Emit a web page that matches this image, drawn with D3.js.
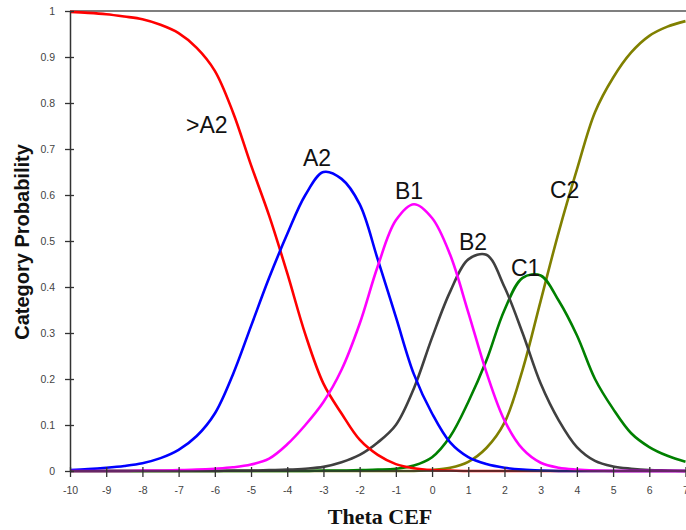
<!DOCTYPE html>
<html>
<head>
<meta charset="utf-8">
<script src="https://cdn.jsdelivr.net/npm/d3@7.9.0/dist/d3.min.js"></script>
<style>
  html, body { margin: 0; padding: 0; background: #fff; }
  svg { display: block; }
  .tick text { font-family: Arial, "Liberation Sans", sans-serif; font-size: 10.5px; fill: #444; }
</style>
</head>
<body>
<svg id="chart" width="686" height="530"></svg>
<script>
// theta points (read every 0.5 from the picture)
const theta = [-10,-9.5,-9,-8.5,-8,-7.5,-7,-6.5,-6,-5.5,-5,-4.5,-4,-3.5,-3,-2.5,-2,-1.5,-1,-0.5,
               0,0.5,1,1.5,2,2.5,3,3.5,4,4.5,5,5.5,6,6.5,7];

const probAboveA2 = [0.998,0.996,0.993,0.988,0.982,0.970,0.952,0.920,0.870,0.780,0.665,0.555,0.430,0.297,0.190,0.125,0.068,0.035,0.015,0.006,
                     0.002,0.001,0,0,0,0,0,0,0,0,0,0,0,0,0];
const probA2      = [0.002,0.004,0.007,0.011,0.017,0.028,0.046,0.076,0.125,0.210,0.315,0.420,0.515,0.600,0.650,0.635,0.580,0.460,0.335,0.210,
                     0.125,0.062,0.030,0.015,0.007,0.003,0.001,0,0,0,0,0,0,0,0];
const probB1      = [0,0,0,0,0.001,0.001,0.002,0.003,0.005,0.008,0.014,0.027,0.058,0.100,0.150,0.220,0.320,0.445,0.545,0.580,
                     0.550,0.470,0.345,0.215,0.110,0.048,0.018,0.007,0.003,0.001,0,0,0,0,0];
const probB2      = [0,0,0,0,0,0,0,0,0,0.001,0.001,0.002,0.003,0.005,0.009,0.019,0.035,0.062,0.100,0.180,
                     0.290,0.390,0.460,0.470,0.400,0.300,0.190,0.110,0.052,0.022,0.010,0.005,0.002,0.001,0];
const probC1      = [0,0,0,0,0,0,0,0,0,0,0,0,0,0,0.001,0.001,0.002,0.003,0.005,0.012,
                     0.030,0.075,0.150,0.240,0.350,0.420,0.425,0.370,0.295,0.200,0.135,0.082,0.052,0.033,0.020];
const probC2      = [0,0,0,0,0,0,0,0,0,0,0,0,0,0,0,0,0,0,0,0,
                     0.002,0.007,0.020,0.050,0.105,0.220,0.370,0.520,0.655,0.780,0.855,0.910,0.946,0.966,0.978];

const xTicks = [-10,-9,-8,-7,-6,-5,-4,-3,-2,-1,0,1,2,3,4,5,6,7];
const yTicks = [0,0.1,0.2,0.3,0.4,0.5,0.6,0.7,0.8,0.9,1];

// drawing order matters where lines lie on the axis
const series = [
  { name: 'C2',  values: probC2,      color: '#808000', label: [550, 198] },
  { name: 'C1',  values: probC1,      color: '#008000', label: [511, 276] },
  { name: 'B2',  values: probB2,      color: '#404040', label: [459, 250] },
  { name: '>A2', values: probAboveA2, color: '#ff0000', label: [186, 133] },
  { name: 'A2',  values: probA2,      color: '#0000ff', label: [303, 166] },
  { name: 'B1',  values: probB1,      color: '#ff00ff', label: [395, 199] }
];

const svg = d3.select('#chart');
const x = d3.scaleLinear().domain([-10, 7]).range([70, 685.5]);
const y = d3.scaleLinear().domain([0, 1]).range([471, 11]);

// top frame line
svg.append('line')
   .attr('x1', 70).attr('x2', 686)
   .attr('y1', 11).attr('y2', 11)
   .attr('stroke', '#555').attr('stroke-width', 1.5);

const line = d3.line()
  .x((d, i) => x(theta[i]))
  .y(d => y(d))
  .curve(d3.curveCatmullRom.alpha(0.5));

svg.append('g')
  .selectAll('path')
  .data(series)
  .join('path')
    .attr('d', d => line(d.values))
    .attr('fill', 'none')
    .attr('stroke', d => d.color)
    .attr('stroke-width', 2.6)
    .attr('stroke-linejoin', 'round');

// axes
const yAxis = svg.append('g')
  .attr('transform', `translate(${x(-10)},0)`)
  .call(d3.axisLeft(y).tickValues(yTicks).tickFormat(d => String(d))
          .tickSizeInner(5).tickSizeOuter(0).tickPadding(10));
yAxis.selectAll('.tick line').attr('x1', 4).attr('x2', -5).attr('stroke', '#333').attr('stroke-width', 1.3);
yAxis.select('.domain').attr('stroke', '#333').attr('stroke-width', 1.5);

const xAxis = svg.append('g')
  .attr('transform', `translate(0,${y(0)})`)
  .call(d3.axisBottom(x).tickValues(xTicks).tickFormat(d => String(d))
          .tickSizeInner(6).tickSizeOuter(0).tickPadding(10));
xAxis.selectAll('.tick line').attr('y1', -4).attr('y2', 6).attr('stroke', '#333').attr('stroke-width', 1.3);
xAxis.select('.domain').attr('d', `M70,0H686`).attr('stroke', '#333').attr('stroke-width', 1.5);

// curve labels
svg.append('g')
  .selectAll('text')
  .data(series)
  .join('text')
    .attr('x', d => d.label[0])
    .attr('y', d => d.label[1])
    .attr('font-family', 'Arial, "Liberation Sans", sans-serif')
    .attr('font-size', 23)
    .attr('fill', '#111')
    .text(d => d.name);

// axis titles
svg.append('text')
   .attr('transform', 'translate(29,242) rotate(-90)')
   .attr('text-anchor', 'middle')
   .attr('font-family', 'Arial, "Liberation Sans", sans-serif')
   .attr('font-weight', 'bold')
   .attr('font-size', 20)
   .attr('fill', '#111')
   .text('Category Probability');

svg.append('text')
   .attr('x', 380).attr('y', 524)
   .attr('text-anchor', 'middle')
   .attr('font-family', '"Times New Roman", "Liberation Serif", serif')
   .attr('font-weight', 'bold')
   .attr('font-size', 22)
   .attr('fill', '#111')
   .text('Theta CEF');
</script>
</body>
</html>
